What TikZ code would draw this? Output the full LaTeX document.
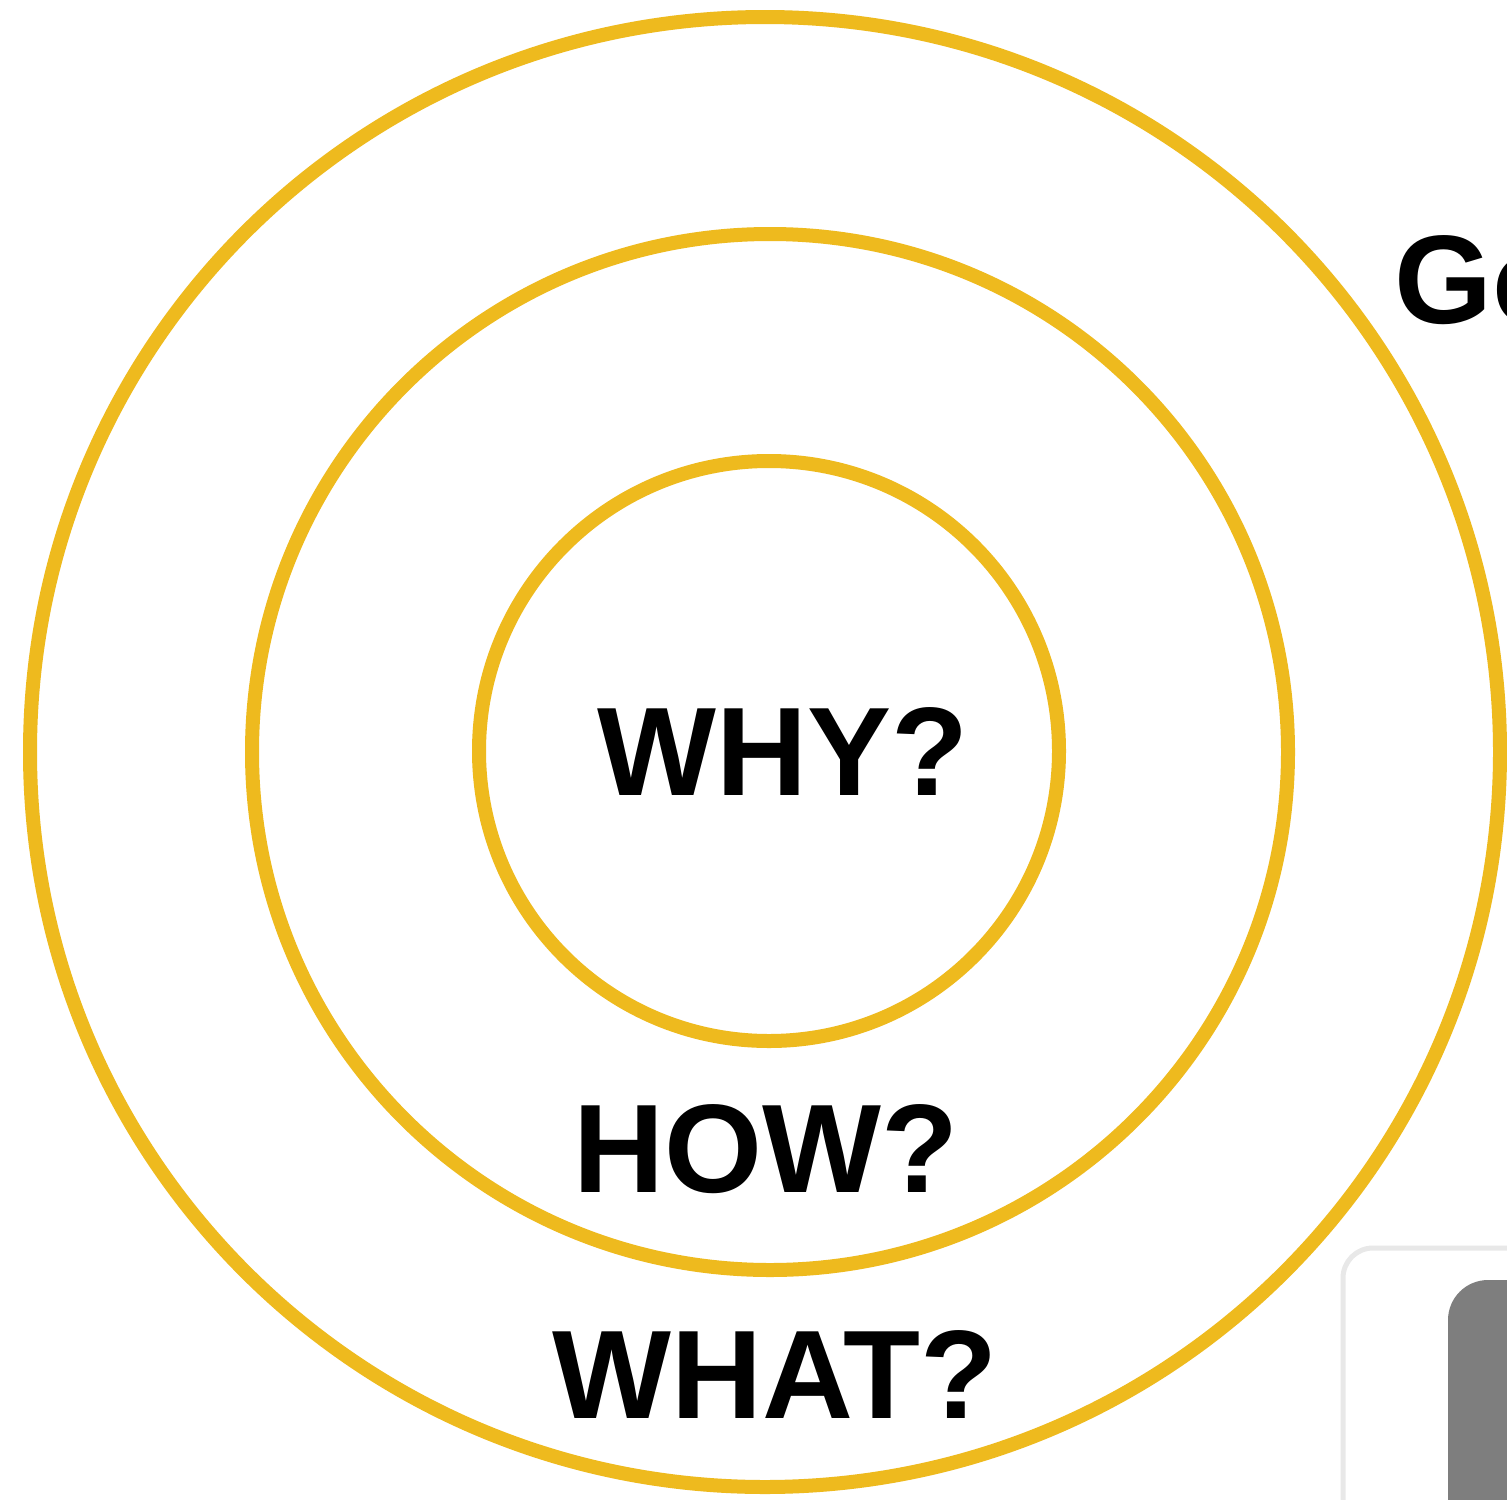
\documentclass[tikz,border=0pt]{standalone}
\usepackage{fontspec}
\setmainfont{Liberation Sans}
\definecolor{ring}{RGB}{238,186,30}
\definecolor{boxline}{RGB}{232,232,232}
\definecolor{boxfill}{RGB}{126,126,126}
\begin{document}
\begin{tikzpicture}[x=1pt,y=-1pt,
  ringstyle/.style={circle, draw=ring, line width=14pt, inner sep=0pt, outer sep=0pt},
  label/.style={font=\fontsize{126}{126}\selectfont\bfseries, anchor=base, inner sep=0pt}]
\useasboundingbox (0,0) rectangle (1507,1499);
\fill[white] (0,0) rectangle (1507,1499);
\clip (0,0) rectangle (1507,1499);
% partial box at bottom right
\draw[boxline, line width=5pt, rounded corners=30pt] (1343,1248) rectangle (1560,1560);
\fill[boxfill, rounded corners=40pt] (1448,1280) rectangle (1600,1600);
% rings
\node[ringstyle, minimum size=1470pt] (outer) at (765,752) {};
\node[ringstyle, minimum size=1036pt] (middle) at (770,752) {};
\node[ringstyle, minimum size=580pt] (inner) at (769,751) {};
% labels
\node[label] (why) at (783,795) {WHY?};
\node[label] (how) at (766,1192) {HOW?};
\node[label] (what) at (775,1418) {WHAT?};
\node[label, anchor=base west] (go) at (1394,323) {Go};
\end{tikzpicture}
\end{document}
